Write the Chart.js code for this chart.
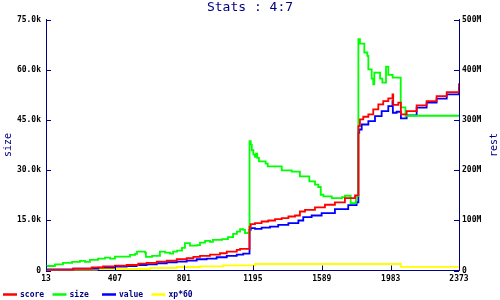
<!DOCTYPE html>
<html><head><meta charset="utf-8">
<script src="https://cdn.jsdelivr.net/npm/chart.js@4"></script>
<style>html,body{margin:0;padding:0;background:#fff}</style>
</head><body>
<canvas id="c" width="500" height="300" style="display:block"></canvas>
<script>
const titleText = 'Stats : 4:7';
const xTicks = [13, 407, 801, 1195, 1589, 1983, 2373];
const sizeTicks = [0, 15000, 30000, 45000, 60000, 75000];
const restTicks = [0, 100, 200, 300, 400, 500]; // millions

// score (right axis, millions)
const scoreX = [13,169,274,339,407,474,540,588,646,703,760,817,855,893,950,1007,1046,1103,1122,1176,1183,1207,1245,1283,1322,1360,1398,1436,1464,1493,1550,1607,1664,1721,1779,1798,1807,1826,1855,1883,1912,1940,1969,1993,1997,2026,2041,2074,2131,2188,2245,2303,2373];
const scoreY = [1,3.6,6.4,8.4,9.6,11,13.6,15,17.6,19.6,22.4,24.4,27,29,31.6,34.4,37.6,41,43,87.6,92.4,94.4,97.6,99.6,102.4,104.4,107.6,109.6,117.6,121,125.6,131,135.6,144.4,149.6,287.6,301,306.4,311,321,331,337.6,343,351,330,334.4,311,317.6,329,337.6,347.6,355.6,373];

// size (left axis)
const sizeX = [13,64,110,162,207,236,264,310,350,379,407,493,522,533,579,584,619,664,693,722,739,762,790,807,836,876,893,922,950,967,1019,1053,1082,1104,1122,1139,1150,1167,1176,1183,1189,1198,1207,1213,1220,1230,1268,1280,1360,1417,1464,1518,1550,1569,1583,1598,1646,1704,1721,1754,1784,1798,1807,1832,1849,1855,1874,1883,1889,1922,1935,1956,1969,1994,2040,2067,2373];
const sizeY = [1350,1860,2250,2550,2850,2550,3150,3540,3840,3540,4140,4650,4950,5640,5340,4050,4350,5640,5340,5040,5640,5940,6750,8160,7440,7560,8340,8850,8550,9150,9360,9960,10950,11640,12360,12150,11160,11340,38640,37650,35940,34650,33960,34950,33660,32640,31950,31140,29940,29550,28140,26640,25650,24960,22650,22140,21660,21960,22350,20160,22260,69150,67800,65160,64140,60150,57360,55650,59160,57360,56160,60960,58500,57660,48750,46260,46260];

// value (right axis, millions)
const valueX = [13,169,312,407,474,531,588,646,703,760,817,874,931,988,1046,1103,1140,1176,1183,1207,1245,1293,1340,1398,1455,1483,1531,1588,1664,1740,1788,1798,1803,1817,1855,1893,1931,1969,1993,1995,2017,2041,2074,2131,2188,2245,2303,2373];
const valueY = [2.4,3.6,5.6,7.6,9,11,12.4,14.4,16.4,17.6,19.6,22.4,23.6,26.4,29,31.6,33.6,81,84.4,83,85.6,87.6,91,94.4,99.6,106.4,109.6,114.4,122.4,130.4,135.6,274.4,281,291,297.6,307.6,317.6,327.6,337.6,314.4,316.4,303,309,324.4,334.4,342.4,351,366];

// xp*60 (right axis, millions)
const xpX = [13,93,303,607,760,893,1024,1207,2041,2373];
const xpY = [0,1,3,5,7,8.4,10.4,13,7.4,7.4];

const NAVY = '#000080';
const MONO = '"DejaVu Sans Mono", "Liberation Mono", monospace';
const pts = (xs, ys) => xs.map((x, i) => ({x: x, y: ys[i]}));

function ds(label, xs, ys, color, axis) {
  return {label: label, data: pts(xs, ys), yAxisID: axis, borderColor: color, backgroundColor: color,
    borderWidth: 1.8, stepped: true, pointRadius: 0, fill: false, tension: 0};
}

const inwardTicks = {
  id: 'inwardTicks',
  afterDraw(chart) {
    const ctx = chart.ctx, a = chart.chartArea;
    ctx.save();
    ctx.strokeStyle = NAVY; ctx.lineWidth = 1;
    ctx.beginPath();
    const sx = chart.scales.x;
    sx.ticks.forEach((t, i) => { const p = Math.round(sx.getPixelForTick(i)) + 0.5; ctx.moveTo(p, a.bottom); ctx.lineTo(p, a.bottom - 5); });
    const sy = chart.scales.y;
    sy.ticks.forEach((t, i) => { const p = Math.round(sy.getPixelForTick(i)) + 0.5; ctx.moveTo(a.left, p); ctx.lineTo(a.left + 5, p); });
    const s2 = chart.scales.y2;
    s2.ticks.forEach((t, i) => { const p = Math.round(s2.getPixelForTick(i)) + 0.5; ctx.moveTo(a.right, p); ctx.lineTo(a.right - 5, p); });
    ctx.stroke();
    // right axis title, rotated like the left one
    ctx.fillStyle = NAVY;
    ctx.font = '10px ' + MONO;
    ctx.textAlign = 'center'; ctx.textBaseline = 'middle';
    ctx.translate(chart.width - 5.5, (a.top + a.bottom) / 2);
    ctx.rotate(-Math.PI / 2);
    ctx.fillText('rest', 0, 0);
    ctx.restore();
    // legend
    ctx.save();
    ctx.font = 'bold 8px ' + MONO;
    ctx.textBaseline = 'middle'; ctx.textAlign = 'left';
    chart.data.datasets.forEach((d, i) => {
      const x0 = 3 + i * 49.5, y0 = chart.height - 5.5;
      ctx.strokeStyle = d.borderColor; ctx.lineWidth = 2.5;
      ctx.beginPath(); ctx.moveTo(x0, y0); ctx.lineTo(x0 + 14, y0); ctx.stroke();
      ctx.fillStyle = NAVY;
      ctx.fillText(d.label, x0 + 17, y0 + 0.5);
    });
    ctx.restore();
  }
};

const tickFont = {family: MONO, size: 8, weight: 'bold'};

new Chart(document.getElementById('c'), {
  type: 'line',
  data: {
    datasets: [
      ds('score', scoreX, scoreY, '#ff0000', 'y2'),
      ds('size', sizeX, sizeY, '#00ff00', 'y'),
      ds('value', valueX, valueY, '#0000ff', 'y2'),
      ds('xp*60', xpX, xpY, '#ffff00', 'y2')
    ]
  },
  options: {
    responsive: false, animation: false, devicePixelRatio: 1,
    layout: {padding: {top: 0, left: 0, right: 0, bottom: 14}},
    plugins: {
      legend: {display: false},
      tooltip: {enabled: false},
      title: {display: true, text: titleText, color: NAVY, font: {family: MONO, size: 13, weight: 'normal'}, padding: {top: 0, bottom: 4}}
    },
    scales: {
      x: {
        type: 'linear', min: 13, max: 2373,
        afterBuildTicks: s => { s.ticks = xTicks.map(v => ({value: v})); },
        afterFit: s => { s.height = 15.5; },
        ticks: {font: tickFont, color: '#000', padding: 4, maxRotation: 0, autoSkip: false, callback: v => String(v)},
        grid: {display: false, drawTicks: false},
        border: {color: NAVY, width: 1}
      },
      y: {
        position: 'left', min: 0, max: 75000,
        afterBuildTicks: s => { s.ticks = sizeTicks.map(v => ({value: v})); },
        afterFit: s => { s.width = 46; },
        ticks: {font: tickFont, color: '#000', padding: 5, callback: v => v === 0 ? '0' : (v / 1000).toFixed(1) + 'k'},
        grid: {display: false, drawTicks: false},
        border: {color: NAVY, width: 1},
        title: {display: true, text: 'size', color: NAVY, font: {family: MONO, size: 10}, padding: {top: 2, bottom: 0}}
      },
      y2: {
        position: 'right', min: 0, max: 500,
        afterBuildTicks: s => { s.ticks = restTicks.map(v => ({value: v})); },
        afterFit: s => { s.width = 41; },
        ticks: {font: tickFont, color: '#000', padding: 3, callback: v => v === 0 ? '0' : v + 'M'},
        grid: {display: false, drawTicks: false},
        border: {color: NAVY, width: 1}
      }
    }
  },
  plugins: [inwardTicks]
});
</script>
</body></html>
